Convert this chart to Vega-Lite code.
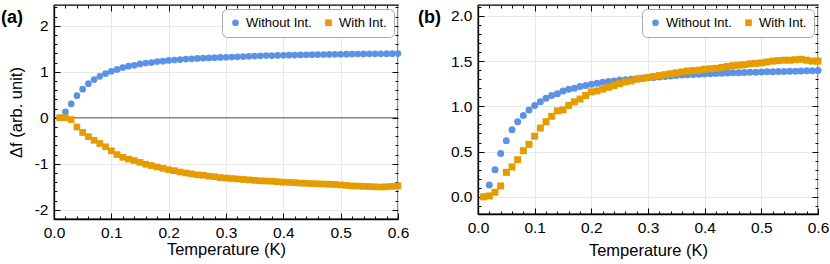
{
"$schema": "https://vega.github.io/schema/vega-lite/v6.json",
"padding": {"left": 0, "top": 3, "right": 0, "bottom": 0},
"background": "white",
"spacing": 7,
"config": {
  "font": "Liberation Sans",
  "view": {"stroke": "#000", "strokeWidth": 1.3},
  "axis": {"domainColor": "#000", "domainWidth": 1.3, "tickColor": "#000", "tickWidth": 1, "labelColor": "#000", "titleColor": "#000", "labelFont": "Liberation Sans", "titleFont": "Liberation Sans", "labelFontSize": 15.5, "titleFontSize": 16.5, "titleFontWeight": "normal", "gridColor": "#e8e8e8", "gridWidth": 1},
  "legend": {"orient": "top-right", "direction": "horizontal", "strokeColor": "#aaa", "cornerRadius": 5, "padding": 7, "offset": 4, "fillColor": "white", "labelFont": "Liberation Sans", "labelFontSize": 13, "labelColor": "#000", "symbolSize": 45, "columnPadding": 10, "symbolStrokeWidth": 0}
},
"resolve": {"legend": {"color": "independent", "shape": "independent"}},
"datasets": {
"a": [
{"T":0.01,"f":0.0,"s":"Without Int."},{"T":0.02,"f":0.13,"s":"Without Int."},{"T":0.03,"f":0.30,"s":"Without Int."},{"T":0.04,"f":0.48,"s":"Without Int."},{"T":0.05,"f":0.62,"s":"Without Int."},{"T":0.06,"f":0.74,"s":"Without Int."},{"T":0.07,"f":0.83,"s":"Without Int."},{"T":0.08,"f":0.90,"s":"Without Int."},{"T":0.09,"f":0.96,"s":"Without Int."},{"T":0.10,"f":1.01,"s":"Without Int."},
{"T":0.11,"f":1.05,"s":"Without Int."},{"T":0.12,"f":1.09,"s":"Without Int."},{"T":0.13,"f":1.12,"s":"Without Int."},{"T":0.14,"f":1.14,"s":"Without Int."},{"T":0.15,"f":1.17,"s":"Without Int."},{"T":0.16,"f":1.19,"s":"Without Int."},{"T":0.17,"f":1.20,"s":"Without Int."},{"T":0.18,"f":1.22,"s":"Without Int."},{"T":0.19,"f":1.23,"s":"Without Int."},{"T":0.20,"f":1.245,"s":"Without Int."},
{"T":0.21,"f":1.255,"s":"Without Int."},{"T":0.22,"f":1.265,"s":"Without Int."},{"T":0.23,"f":1.275,"s":"Without Int."},{"T":0.24,"f":1.28,"s":"Without Int."},{"T":0.25,"f":1.29,"s":"Without Int."},{"T":0.26,"f":1.295,"s":"Without Int."},{"T":0.27,"f":1.30,"s":"Without Int."},{"T":0.28,"f":1.305,"s":"Without Int."},{"T":0.29,"f":1.31,"s":"Without Int."},{"T":0.30,"f":1.315,"s":"Without Int."},
{"T":0.31,"f":1.32,"s":"Without Int."},{"T":0.32,"f":1.325,"s":"Without Int."},{"T":0.33,"f":1.33,"s":"Without Int."},{"T":0.34,"f":1.335,"s":"Without Int."},{"T":0.35,"f":1.34,"s":"Without Int."},{"T":0.36,"f":1.345,"s":"Without Int."},{"T":0.37,"f":1.35,"s":"Without Int."},{"T":0.38,"f":1.352,"s":"Without Int."},{"T":0.39,"f":1.355,"s":"Without Int."},{"T":0.40,"f":1.358,"s":"Without Int."},
{"T":0.41,"f":1.36,"s":"Without Int."},{"T":0.42,"f":1.363,"s":"Without Int."},{"T":0.43,"f":1.366,"s":"Without Int."},{"T":0.44,"f":1.368,"s":"Without Int."},{"T":0.45,"f":1.37,"s":"Without Int."},{"T":0.46,"f":1.372,"s":"Without Int."},{"T":0.47,"f":1.374,"s":"Without Int."},{"T":0.48,"f":1.376,"s":"Without Int."},{"T":0.49,"f":1.378,"s":"Without Int."},{"T":0.50,"f":1.38,"s":"Without Int."},
{"T":0.51,"f":1.382,"s":"Without Int."},{"T":0.52,"f":1.383,"s":"Without Int."},{"T":0.53,"f":1.385,"s":"Without Int."},{"T":0.54,"f":1.386,"s":"Without Int."},{"T":0.55,"f":1.388,"s":"Without Int."},{"T":0.56,"f":1.389,"s":"Without Int."},{"T":0.57,"f":1.39,"s":"Without Int."},{"T":0.58,"f":1.392,"s":"Without Int."},{"T":0.59,"f":1.393,"s":"Without Int."},{"T":0.60,"f":1.395,"s":"Without Int."},
{"T":0.01,"f":0.0,"s":"With Int."},{"T":0.02,"f":0.0,"s":"With Int."},{"T":0.03,"f":-0.04,"s":"With Int."},{"T":0.04,"f":-0.2,"s":"With Int."},{"T":0.05,"f":-0.32,"s":"With Int."},{"T":0.06,"f":-0.41,"s":"With Int."},{"T":0.07,"f":-0.49,"s":"With Int."},{"T":0.08,"f":-0.56,"s":"With Int."},{"T":0.09,"f":-0.63,"s":"With Int."},{"T":0.10,"f":-0.72,"s":"With Int."},
{"T":0.11,"f":-0.8,"s":"With Int."},{"T":0.12,"f":-0.86,"s":"With Int."},{"T":0.13,"f":-0.9,"s":"With Int."},{"T":0.14,"f":-0.93,"s":"With Int."},{"T":0.15,"f":-0.97,"s":"With Int."},{"T":0.16,"f":-1.01,"s":"With Int."},{"T":0.17,"f":-1.04,"s":"With Int."},{"T":0.18,"f":-1.07,"s":"With Int."},{"T":0.19,"f":-1.10,"s":"With Int."},{"T":0.20,"f":-1.13,"s":"With Int."},
{"T":0.21,"f":-1.15,"s":"With Int."},{"T":0.22,"f":-1.18,"s":"With Int."},{"T":0.23,"f":-1.20,"s":"With Int."},{"T":0.24,"f":-1.22,"s":"With Int."},{"T":0.25,"f":-1.24,"s":"With Int."},{"T":0.26,"f":-1.25,"s":"With Int."},{"T":0.27,"f":-1.27,"s":"With Int."},{"T":0.28,"f":-1.28,"s":"With Int."},{"T":0.29,"f":-1.30,"s":"With Int."},{"T":0.30,"f":-1.31,"s":"With Int."},
{"T":0.31,"f":-1.32,"s":"With Int."},{"T":0.32,"f":-1.33,"s":"With Int."},{"T":0.33,"f":-1.34,"s":"With Int."},{"T":0.34,"f":-1.35,"s":"With Int."},{"T":0.35,"f":-1.36,"s":"With Int."},{"T":0.36,"f":-1.37,"s":"With Int."},{"T":0.37,"f":-1.375,"s":"With Int."},{"T":0.38,"f":-1.38,"s":"With Int."},{"T":0.39,"f":-1.39,"s":"With Int."},{"T":0.40,"f":-1.40,"s":"With Int."},
{"T":0.41,"f":-1.405,"s":"With Int."},{"T":0.42,"f":-1.41,"s":"With Int."},{"T":0.43,"f":-1.42,"s":"With Int."},{"T":0.44,"f":-1.425,"s":"With Int."},{"T":0.45,"f":-1.43,"s":"With Int."},{"T":0.46,"f":-1.435,"s":"With Int."},{"T":0.47,"f":-1.44,"s":"With Int."},{"T":0.48,"f":-1.445,"s":"With Int."},{"T":0.49,"f":-1.45,"s":"With Int."},{"T":0.50,"f":-1.46,"s":"With Int."},
{"T":0.51,"f":-1.47,"s":"With Int."},{"T":0.52,"f":-1.48,"s":"With Int."},{"T":0.53,"f":-1.485,"s":"With Int."},{"T":0.54,"f":-1.49,"s":"With Int."},{"T":0.55,"f":-1.495,"s":"With Int."},{"T":0.56,"f":-1.5,"s":"With Int."},{"T":0.57,"f":-1.505,"s":"With Int."},{"T":0.58,"f":-1.50,"s":"With Int."},{"T":0.59,"f":-1.49,"s":"With Int."},{"T":0.60,"f":-1.48,"s":"With Int."}
],
"b": [
{"T":0.01,"f":0.0,"s":"Without Int."},{"T":0.02,"f":0.13,"s":"Without Int."},{"T":0.03,"f":0.30,"s":"Without Int."},{"T":0.04,"f":0.48,"s":"Without Int."},{"T":0.05,"f":0.62,"s":"Without Int."},{"T":0.06,"f":0.74,"s":"Without Int."},{"T":0.07,"f":0.83,"s":"Without Int."},{"T":0.08,"f":0.90,"s":"Without Int."},{"T":0.09,"f":0.96,"s":"Without Int."},{"T":0.10,"f":1.01,"s":"Without Int."},
{"T":0.11,"f":1.05,"s":"Without Int."},{"T":0.12,"f":1.09,"s":"Without Int."},{"T":0.13,"f":1.12,"s":"Without Int."},{"T":0.14,"f":1.14,"s":"Without Int."},{"T":0.15,"f":1.17,"s":"Without Int."},{"T":0.16,"f":1.19,"s":"Without Int."},{"T":0.17,"f":1.20,"s":"Without Int."},{"T":0.18,"f":1.22,"s":"Without Int."},{"T":0.19,"f":1.23,"s":"Without Int."},{"T":0.20,"f":1.245,"s":"Without Int."},
{"T":0.21,"f":1.255,"s":"Without Int."},{"T":0.22,"f":1.265,"s":"Without Int."},{"T":0.23,"f":1.275,"s":"Without Int."},{"T":0.24,"f":1.28,"s":"Without Int."},{"T":0.25,"f":1.29,"s":"Without Int."},{"T":0.26,"f":1.295,"s":"Without Int."},{"T":0.27,"f":1.30,"s":"Without Int."},{"T":0.28,"f":1.305,"s":"Without Int."},{"T":0.29,"f":1.31,"s":"Without Int."},{"T":0.30,"f":1.315,"s":"Without Int."},
{"T":0.31,"f":1.32,"s":"Without Int."},{"T":0.32,"f":1.325,"s":"Without Int."},{"T":0.33,"f":1.33,"s":"Without Int."},{"T":0.34,"f":1.335,"s":"Without Int."},{"T":0.35,"f":1.34,"s":"Without Int."},{"T":0.36,"f":1.345,"s":"Without Int."},{"T":0.37,"f":1.35,"s":"Without Int."},{"T":0.38,"f":1.352,"s":"Without Int."},{"T":0.39,"f":1.355,"s":"Without Int."},{"T":0.40,"f":1.358,"s":"Without Int."},
{"T":0.41,"f":1.36,"s":"Without Int."},{"T":0.42,"f":1.363,"s":"Without Int."},{"T":0.43,"f":1.366,"s":"Without Int."},{"T":0.44,"f":1.368,"s":"Without Int."},{"T":0.45,"f":1.37,"s":"Without Int."},{"T":0.46,"f":1.372,"s":"Without Int."},{"T":0.47,"f":1.374,"s":"Without Int."},{"T":0.48,"f":1.376,"s":"Without Int."},{"T":0.49,"f":1.378,"s":"Without Int."},{"T":0.50,"f":1.38,"s":"Without Int."},
{"T":0.51,"f":1.382,"s":"Without Int."},{"T":0.52,"f":1.383,"s":"Without Int."},{"T":0.53,"f":1.385,"s":"Without Int."},{"T":0.54,"f":1.386,"s":"Without Int."},{"T":0.55,"f":1.388,"s":"Without Int."},{"T":0.56,"f":1.389,"s":"Without Int."},{"T":0.57,"f":1.39,"s":"Without Int."},{"T":0.58,"f":1.392,"s":"Without Int."},{"T":0.59,"f":1.393,"s":"Without Int."},{"T":0.60,"f":1.395,"s":"Without Int."},
{"T":0.01,"f":0.0,"s":"With Int."},{"T":0.02,"f":0.01,"s":"With Int."},{"T":0.03,"f":0.05,"s":"With Int."},{"T":0.04,"f":0.12,"s":"With Int."},{"T":0.05,"f":0.27,"s":"With Int."},{"T":0.06,"f":0.33,"s":"With Int."},{"T":0.07,"f":0.41,"s":"With Int."},{"T":0.08,"f":0.51,"s":"With Int."},{"T":0.09,"f":0.58,"s":"With Int."},{"T":0.10,"f":0.67,"s":"With Int."},
{"T":0.11,"f":0.76,"s":"With Int."},{"T":0.12,"f":0.83,"s":"With Int."},{"T":0.13,"f":0.89,"s":"With Int."},{"T":0.14,"f":0.95,"s":"With Int."},{"T":0.15,"f":0.96,"s":"With Int."},{"T":0.16,"f":1.01,"s":"With Int."},{"T":0.17,"f":1.05,"s":"With Int."},{"T":0.18,"f":1.08,"s":"With Int."},{"T":0.19,"f":1.12,"s":"With Int."},{"T":0.20,"f":1.16,"s":"With Int."},
{"T":0.21,"f":1.17,"s":"With Int."},{"T":0.22,"f":1.19,"s":"With Int."},{"T":0.23,"f":1.21,"s":"With Int."},{"T":0.24,"f":1.23,"s":"With Int."},{"T":0.25,"f":1.25,"s":"With Int."},{"T":0.26,"f":1.27,"s":"With Int."},{"T":0.27,"f":1.28,"s":"With Int."},{"T":0.28,"f":1.30,"s":"With Int."},{"T":0.29,"f":1.31,"s":"With Int."},{"T":0.30,"f":1.32,"s":"With Int."},
{"T":0.31,"f":1.33,"s":"With Int."},{"T":0.32,"f":1.34,"s":"With Int."},{"T":0.33,"f":1.35,"s":"With Int."},{"T":0.34,"f":1.36,"s":"With Int."},{"T":0.35,"f":1.37,"s":"With Int."},{"T":0.36,"f":1.38,"s":"With Int."},{"T":0.37,"f":1.39,"s":"With Int."},{"T":0.38,"f":1.395,"s":"With Int."},{"T":0.39,"f":1.40,"s":"With Int."},{"T":0.40,"f":1.41,"s":"With Int."},
{"T":0.41,"f":1.415,"s":"With Int."},{"T":0.42,"f":1.42,"s":"With Int."},{"T":0.43,"f":1.43,"s":"With Int."},{"T":0.44,"f":1.44,"s":"With Int."},{"T":0.45,"f":1.45,"s":"With Int."},{"T":0.46,"f":1.455,"s":"With Int."},{"T":0.47,"f":1.46,"s":"With Int."},{"T":0.48,"f":1.47,"s":"With Int."},{"T":0.49,"f":1.475,"s":"With Int."},{"T":0.50,"f":1.48,"s":"With Int."},
{"T":0.51,"f":1.49,"s":"With Int."},{"T":0.52,"f":1.50,"s":"With Int."},{"T":0.53,"f":1.505,"s":"With Int."},{"T":0.54,"f":1.51,"s":"With Int."},{"T":0.55,"f":1.51,"s":"With Int."},{"T":0.56,"f":1.515,"s":"With Int."},{"T":0.57,"f":1.52,"s":"With Int."},{"T":0.58,"f":1.51,"s":"With Int."},{"T":0.59,"f":1.50,"s":"With Int."},{"T":0.60,"f":1.50,"s":"With Int."}
]
},
"hconcat": [
{
  "width": 344, "height": 214,
  "data": {"name": "a"},
  "resolve": {"axis": {"x": "independent", "y": "independent"}},
  "layer": [
    {"data": {"values": [{}]}, "mark": {"type": "rule", "color": "#333", "strokeWidth": 0.8}, "encoding": {"y": {"datum": 0, "type": "quantitative", "axis": null}}},
    {"mark": {"type": "point", "filled": true, "opacity": 1, "size": 45, "strokeWidth": 0},
     "encoding": {
       "x": {"field": "T", "type": "quantitative", "scale": {"domain": [0, 0.6], "nice": false, "zero": false},
             "axis": {"orient": "bottom", "title": "Temperature (K)", "values": [0, 0.1, 0.2, 0.3, 0.4, 0.5, 0.6], "format": ".1f", "tickSize": -6, "labelPadding": 12, "titlePadding": 1, "grid": true, "labelFlush": false}},
       "y": {"field": "f", "type": "quantitative", "scale": {"domain": [-2.2, 2.45], "nice": false, "zero": false},
             "axis": {"orient": "left", "title": "Δf (arb. unit)", "values": [-2, -1, 0, 1, 2], "labelExpr": "datum.value < 0 ? '-' + abs(datum.value) : '' + datum.value", "tickSize": -6, "labelPadding": 12, "titlePadding": 10, "grid": true, "labelFlush": false}},
       "color": {"field": "s", "type": "nominal", "scale": {"domain": ["Without Int.", "With Int."], "range": ["#5B92E5", "#E59C00"]}, "legend": {"title": null}},
       "shape": {"field": "s", "type": "nominal", "scale": {"domain": ["Without Int.", "With Int."], "range": ["circle", "square"]}, "legend": {"title": null}}
     }},
    {"mark": {"type": "point", "opacity": 0},
     "encoding": {
       "x": {"field": "T", "type": "quantitative", "axis": {"orient": "bottom", "title": null, "labels": false, "domain": false, "grid": false, "tickSize": -3, "values": [0.02,0.04,0.06,0.08,0.12,0.14,0.16,0.18,0.22,0.24,0.26,0.28,0.32,0.34,0.36,0.38,0.42,0.44,0.46,0.48,0.52,0.54,0.56,0.58]}},
       "y": {"field": "f", "type": "quantitative", "axis": {"orient": "left", "title": null, "labels": false, "domain": false, "grid": false, "tickSize": -3, "values": [-1.8,-1.6,-1.4,-1.2,-0.8,-0.6,-0.4,-0.2,0.2,0.4,0.6,0.8,1.2,1.4,1.6,1.8,2.2,2.4]}}
     }},
    {"mark": {"type": "point", "opacity": 0},
     "encoding": {
       "x": {"field": "T", "type": "quantitative", "axis": {"orient": "top", "title": null, "labels": false, "domain": false, "grid": false, "tickSize": -6, "values": [0.1, 0.2, 0.3, 0.4, 0.5]}},
       "y": {"field": "f", "type": "quantitative", "axis": {"orient": "right", "title": null, "labels": false, "domain": false, "grid": false, "tickSize": -6, "values": [-2, -1, 0, 1, 2]}}
     }},
    {"mark": {"type": "point", "opacity": 0},
     "encoding": {
       "x": {"field": "T", "type": "quantitative", "axis": {"orient": "top", "title": null, "labels": false, "domain": false, "grid": false, "tickSize": -3, "values": [0.02,0.04,0.06,0.08,0.12,0.14,0.16,0.18,0.22,0.24,0.26,0.28,0.32,0.34,0.36,0.38,0.42,0.44,0.46,0.48,0.52,0.54,0.56,0.58]}},
       "y": {"field": "f", "type": "quantitative", "axis": {"orient": "right", "title": null, "labels": false, "domain": false, "grid": false, "tickSize": -3, "values": [-1.8,-1.6,-1.4,-1.2,-0.8,-0.6,-0.4,-0.2,0.2,0.4,0.6,0.8,1.2,1.4,1.6,1.8,2.2,2.4]}}
     }},
    {"data": {"values": [{"label": "(a)"}]},
     "mark": {"type": "text", "font": "Liberation Sans", "fontSize": 18, "fontWeight": "bold", "align": "left", "baseline": "alphabetic", "color": "#000", "clip": false},
     "encoding": {"text": {"field": "label"}, "x": {"datum": -0.0925, "type": "quantitative", "axis": null}, "y": {"datum": 2.05, "type": "quantitative", "axis": null}}}
  ]
},
{
  "width": 340, "height": 209,
  "data": {"name": "b"},
  "resolve": {"axis": {"x": "independent", "y": "independent"}},
  "layer": [
    {"mark": {"type": "point", "filled": true, "opacity": 1, "size": 49, "strokeWidth": 0},
     "encoding": {
       "x": {"field": "T", "type": "quantitative", "scale": {"domain": [0, 0.6], "nice": false, "zero": false},
             "axis": {"orient": "bottom", "title": "Temperature (K)", "values": [0, 0.1, 0.2, 0.3, 0.4, 0.5, 0.6], "format": ".1f", "tickSize": -6, "labelPadding": 12, "titlePadding": 7, "grid": true, "labelFlush": false}},
       "y": {"field": "f", "type": "quantitative", "scale": {"domain": [-0.19, 2.12], "nice": false, "zero": false},
             "axis": {"orient": "left", "title": null, "values": [0, 0.5, 1, 1.5, 2], "format": ".1f", "tickSize": -6, "labelPadding": 12, "grid": true, "labelFlush": false}},
       "color": {"field": "s", "type": "nominal", "scale": {"domain": ["Without Int.", "With Int."], "range": ["#5B92E5", "#E59C00"]}, "legend": {"title": null}},
       "shape": {"field": "s", "type": "nominal", "scale": {"domain": ["Without Int.", "With Int."], "range": ["circle", "square"]}, "legend": {"title": null}}
     }},
    {"mark": {"type": "point", "opacity": 0},
     "encoding": {
       "x": {"field": "T", "type": "quantitative", "axis": {"orient": "bottom", "title": null, "labels": false, "domain": false, "grid": false, "tickSize": -3, "values": [0.02,0.04,0.06,0.08,0.12,0.14,0.16,0.18,0.22,0.24,0.26,0.28,0.32,0.34,0.36,0.38,0.42,0.44,0.46,0.48,0.52,0.54,0.56,0.58]}},
       "y": {"field": "f", "type": "quantitative", "axis": {"orient": "left", "title": null, "labels": false, "domain": false, "grid": false, "tickSize": -3, "values": [-0.1,0.1,0.2,0.3,0.4,0.6,0.7,0.8,0.9,1.1,1.2,1.3,1.4,1.6,1.7,1.8,1.9,2.1]}}
     }},
    {"mark": {"type": "point", "opacity": 0},
     "encoding": {
       "x": {"field": "T", "type": "quantitative", "axis": {"orient": "top", "title": null, "labels": false, "domain": false, "grid": false, "tickSize": -6, "values": [0.1, 0.2, 0.3, 0.4, 0.5]}},
       "y": {"field": "f", "type": "quantitative", "axis": {"orient": "right", "title": null, "labels": false, "domain": false, "grid": false, "tickSize": -6, "values": [0, 0.5, 1, 1.5, 2]}}
     }},
    {"mark": {"type": "point", "opacity": 0},
     "encoding": {
       "x": {"field": "T", "type": "quantitative", "axis": {"orient": "top", "title": null, "labels": false, "domain": false, "grid": false, "tickSize": -3, "values": [0.02,0.04,0.06,0.08,0.12,0.14,0.16,0.18,0.22,0.24,0.26,0.28,0.32,0.34,0.36,0.38,0.42,0.44,0.46,0.48,0.52,0.54,0.56,0.58]}},
       "y": {"field": "f", "type": "quantitative", "axis": {"orient": "right", "title": null, "labels": false, "domain": false, "grid": false, "tickSize": -3, "values": [-0.1,0.1,0.2,0.3,0.4,0.6,0.7,0.8,0.9,1.1,1.2,1.3,1.4,1.6,1.7,1.8,1.9,2.1]}}
     }},
    {"data": {"values": [{"label": "(b)"}]},
     "mark": {"type": "text", "font": "Liberation Sans", "fontSize": 18, "fontWeight": "bold", "align": "left", "baseline": "alphabetic", "color": "#000", "clip": false},
     "encoding": {"text": {"field": "label"}, "x": {"datum": -0.106, "type": "quantitative", "axis": null}, "y": {"datum": 1.92, "type": "quantitative", "axis": null}}}
  ]
}
]
}
